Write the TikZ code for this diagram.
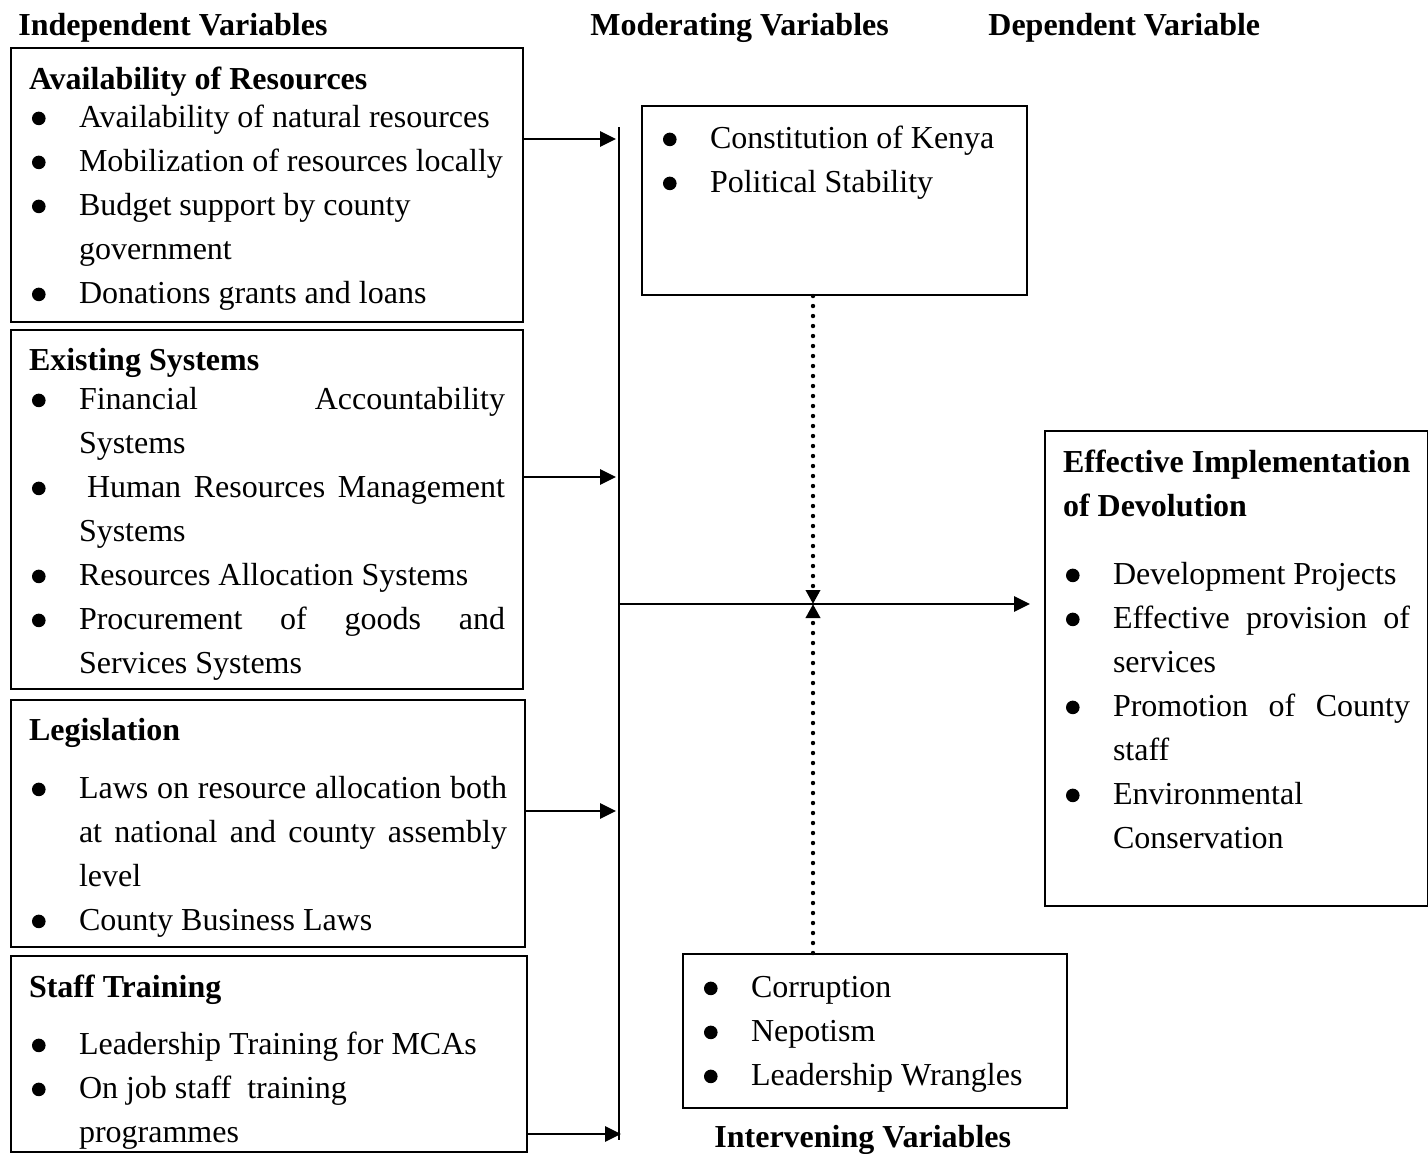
\documentclass[tikz,border=0pt]{standalone}
\usepackage{fontspec}
\setmainfont{Liberation Serif}
\usetikzlibrary{arrows.meta}
\hbadness=10000
\hfuzz=20pt
\vfuzz=20pt

% list of bullet points inside the boxes
\newcommand{\dotmark}{\tikz[baseline=0pt]\fill (3.4pt,4.3pt) circle (3.4pt);}
\newenvironment{bullets}{\begin{list}{\dotmark}{%
  \setlength{\topsep}{0pt}\setlength{\partopsep}{0pt}%
  \setlength{\itemsep}{0pt}\setlength{\parsep}{0pt}%
  \setlength{\leftmargin}{25pt}\setlength{\labelwidth}{25pt}%
  \setlength{\labelsep}{0pt}%
  \renewcommand{\makelabel}[1]{\hspace{1.5pt}##1\hfill}}}{\end{list}}
\newcommand{\varbody}[3]{\parbox[c][#2][t]{#1}{\hbadness=10000 #3}}

\begin{document}
\begin{tikzpicture}[x=0.5pt,y=-0.5pt,
font=\fontsize{16pt}{22pt}\selectfont,
varbox/.style={
draw,
line width=1pt,
inner xsep=9pt,
inner ysep=0pt,
anchor=north west
},
head/.style={font=\fontsize{16pt}{22pt}\selectfont\bfseries, anchor=base west, inner sep=0pt},
feed/.style={-{Triangle[length=8pt,width=7.5pt]}, line width=1.4pt},
bus/.style={line width=1pt},
dots/.style={-{Triangle[length=7pt,width=7pt]}, line width=2.2pt, line cap=round, dash pattern=on 0pt off 5pt},
]
\useasboundingbox (0,0) rectangle (1428,1153);

\node[head] (indep) at (18,35) {Independent Variables};
\node[head] (moder) at (590,35) {Moderating Variables};
\node[head] (depnd) at (988,35) {Dependent Variable};
\node[head] (interv) at (714,1147) {Intervening Variables};

\node[varbox] (res) at (10,47) {\varbody{238pt}{137pt}{%
\rule{0pt}{20.5pt}\textbf{Availability of Resources}\par\kern-3pt
\begin{bullets}
\item Availability of natural resources
\item Mobilization of resources locally
\item Budget support by county\newline government
\item Donations grants and loans
\end{bullets}}};
\node[varbox] (sys) at (10,329) {\varbody{238pt}{179.5pt}{%
\rule{0pt}{20pt}\textbf{Existing Systems}\par\kern-2.5pt
\begin{bullets}
\item Financial Accountability\linebreak Systems
\item \hspace*{4pt}Human Resources Management\linebreak Systems
\item Resources Allocation Systems
\item Procurement of goods and\linebreak Services Systems
\end{bullets}}};
\node[varbox] (law) at (10,699) {\varbody{239pt}{123.5pt}{%
\rule{0pt}{20pt}\textbf{Legislation}\par\kern7pt
\begin{bullets}
\item Laws on resource allocation both\linebreak at national and county assembly\linebreak level
\item County Business Laws
\end{bullets}}};
\node[varbox] (trn) at (10,955) {\varbody{240pt}{98pt}{%
\rule{0pt}{20.5pt}\textbf{Staff Training}\par\kern6.5pt
\begin{bullets}
\item Leadership Training for MCAs
\item On job staff\ \ training\newline programmes
\end{bullets}}};

\node[varbox] (mod) at (641,105) {\varbody{174.5pt}{94.5pt}{%
\begin{bullets}
\item\rule{0pt}{21pt}Constitution of Kenya
\item Political Stability
\end{bullets}}};
\node[varbox] (intv) at (682,953) {\varbody{174pt}{77pt}{%
\begin{bullets}
\item\rule{0pt}{21.5pt}Corruption
\item Nepotism
\item Leadership Wrangles
\end{bullets}}};
\node[varbox] (dep) at (1044,430) {\varbody{173.5pt}{237.5pt}{%
\rule{0pt}{20.5pt}\mbox{\textbf{Effective Implementation}}\newline\textbf{of Devolution}\par\kern12pt
\begin{bullets}
\item Development Projects
\item Effective provision of\linebreak services
\item Promotion of County\linebreak staff
\item Environmental\newline Conservation
\end{bullets}}};

\coordinate (bustop) at (619,127);
\coordinate (busbot) at (619,1140);
\coordinate (hub) at (813,604);
\draw[bus] (bustop) -- (busbot);
\draw[feed] ([yshift=23pt]res.east) -- ++(92,0);
\draw[feed] ([yshift=16.25pt]sys.east) -- ++(92,0);
\draw[feed] ([yshift=6.25pt]law.east) -- ++(90,0);
\draw[feed] ([yshift=-40pt]trn.east) -- ++(93,0);
\draw[feed, shorten >=7pt] (bustop |- hub) -- (dep.west |- hub);
\draw[dots] (hub |- mod.south) -- (hub);
\draw[dots] (hub |- intv.north) -- (hub);
\end{tikzpicture}
\end{document}
